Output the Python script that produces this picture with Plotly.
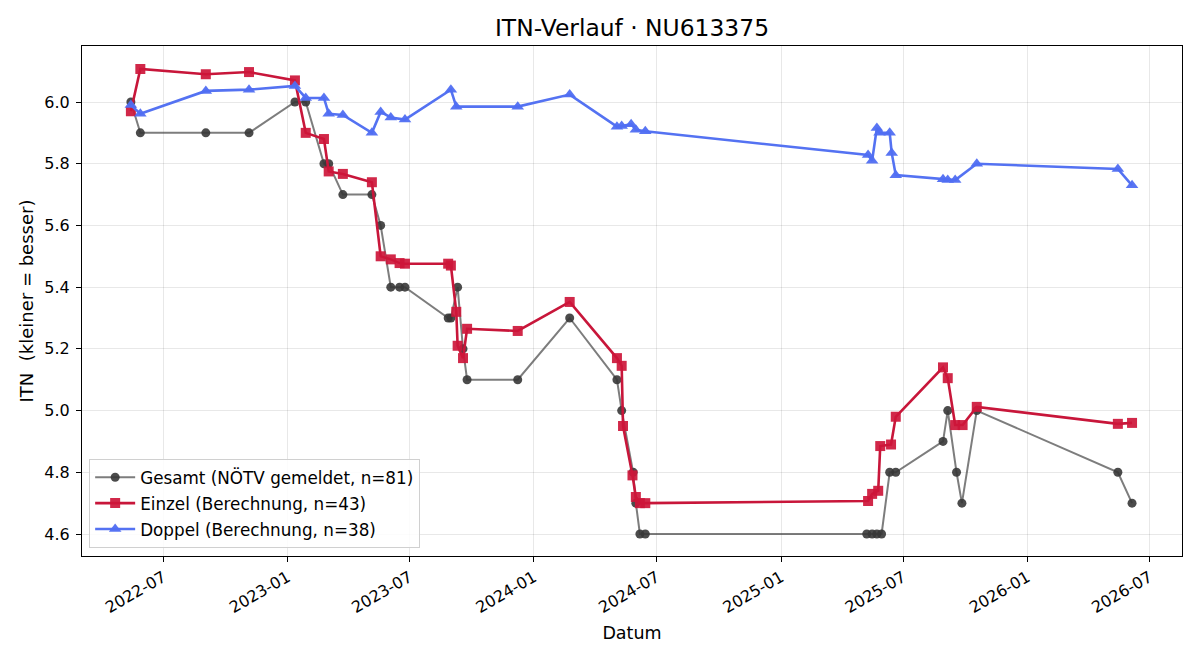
import plotly.graph_objects as go

# ---- data ----
gesamt_dates = [
    "2022-05-14", "2022-05-28", "2022-09-02", "2022-11-05", "2023-01-12", "2023-01-28",
    "2023-02-24", "2023-03-03", "2023-03-24", "2023-05-06", "2023-05-19", "2023-06-03",
    "2023-06-16", "2023-06-24", "2023-08-27", "2023-08-31", "2023-09-10", "2023-09-18",
    "2023-09-24", "2023-12-08", "2024-02-23", "2024-05-03", "2024-05-10", "2024-05-27",
    "2024-05-31", "2024-06-06", "2024-06-14", "2025-05-08", "2025-05-16", "2025-05-23",
    "2025-05-30", "2025-06-11", "2025-06-20", "2025-08-29", "2025-09-05", "2025-09-18",
    "2025-09-26", "2025-10-18", "2026-05-15", "2026-06-05",
]
gesamt_vals = [
    6.0, 5.9, 5.9, 5.9, 6.0, 6.0,
    5.8, 5.8, 5.7, 5.7, 5.6, 5.4,
    5.4, 5.4, 5.3, 5.3, 5.4, 5.2,
    5.1, 5.1, 5.3, 5.1, 5.0, 4.8,
    4.7, 4.6, 4.6, 4.6, 4.6, 4.6,
    4.6, 4.8, 4.8, 4.9, 5.0, 4.8,
    4.7, 5.0, 4.8, 4.7,
]

einzel_dates = [
    "2022-05-14", "2022-05-28", "2022-09-02", "2022-11-05", "2023-01-12", "2023-01-28",
    "2023-02-24", "2023-03-03", "2023-03-24", "2023-05-06", "2023-05-19", "2023-06-03",
    "2023-06-16", "2023-06-24", "2023-08-27", "2023-08-31", "2023-09-08", "2023-09-10",
    "2023-09-18", "2023-09-24", "2023-12-08", "2024-02-23", "2024-05-03", "2024-05-10",
    "2024-05-12", "2024-05-26", "2024-05-31", "2024-06-06", "2024-06-14", "2025-05-10",
    "2025-05-16", "2025-05-25", "2025-05-28", "2025-06-13", "2025-06-20", "2025-08-29",
    "2025-09-05", "2025-09-16", "2025-09-27", "2025-10-18", "2026-05-15", "2026-06-05",
]
einzel_vals = [
    5.97, 6.107, 6.09, 6.097, 6.07, 5.90,
    5.88, 5.775, 5.767, 5.74, 5.50, 5.49,
    5.478, 5.476, 5.476, 5.47, 5.32, 5.21,
    5.17, 5.265, 5.258, 5.352, 5.17, 5.145,
    4.95, 4.79, 4.72, 4.70, 4.70, 4.707,
    4.73, 4.74, 4.885, 4.89, 4.98, 5.14,
    5.105, 4.953, 4.953, 5.012, 4.957, 4.96,
]

doppel_dates = [
    "2022-05-14", "2022-05-28", "2022-09-02", "2022-11-05", "2023-01-12", "2023-01-28",
    "2023-02-24", "2023-03-03", "2023-03-24", "2023-05-06", "2023-05-19", "2023-06-03",
    "2023-06-24", "2023-08-31", "2023-09-08", "2023-12-08", "2024-02-23", "2024-05-03",
    "2024-05-10", "2024-05-24", "2024-05-31", "2024-06-14", "2025-05-10", "2025-05-16",
    "2025-05-23", "2025-05-27", "2025-06-11", "2025-06-14", "2025-06-20", "2025-08-29",
    "2025-09-05", "2025-09-16", "2025-10-18", "2026-05-15", "2026-06-05",
]
doppel_vals = [
    5.99, 5.962, 6.036, 6.04, 6.052, 6.013,
    6.013, 5.962, 5.958, 5.90, 5.968, 5.95,
    5.943, 6.04, 5.985, 5.985, 6.024, 5.92,
    5.922, 5.928, 5.91, 5.905, 5.828, 5.81,
    5.916, 5.90, 5.90, 5.835, 5.763, 5.75,
    5.747, 5.747, 5.80, 5.783, 5.73,
]

x_tickvals = ["2022-07-01", "2023-01-01", "2023-07-01", "2024-01-01", "2024-07-01",
              "2025-01-01", "2025-07-01", "2026-01-01", "2026-07-01"]
x_ticktext = ["2022-07", "2023-01", "2023-07", "2024-01", "2024-07",
              "2025-01", "2025-07", "2026-01", "2026-07"]
y_tickvals = [4.6, 4.8, 5.0, 5.2, 5.4, 5.6, 5.8, 6.0]

FONT = "DejaVu Sans"

fig = go.Figure()
fig.add_trace(go.Scatter(
    x=gesamt_dates, y=gesamt_vals, mode="lines+markers",
    name="Gesamt (NÖTV gemeldet, n=81)", legendgroup="g",
    line=dict(color="rgba(70,70,70,0.7)", width=2),
    marker=dict(symbol="circle", size=9, color="rgba(55,55,55,0.9)"),
))
fig.add_trace(go.Scatter(
    x=einzel_dates, y=einzel_vals, mode="lines+markers",
    name="Einzel (Berechnung, n=43)", legendgroup="e",
    line=dict(color="rgb(200,22,58)", width=2.6),
    marker=dict(symbol="square", size=10, color="rgba(205,22,58,0.92)"),
))
fig.add_trace(go.Scatter(
    x=doppel_dates, y=doppel_vals, mode="lines+markers",
    name="Doppel (Berechnung, n=38)", legendgroup="d",
    line=dict(color="rgb(84,114,242)", width=2.6),
    marker=dict(symbol="triangle-up", size=11, color="rgba(80,110,242,0.95)"),
))

fig.update_layout(
    width=1200, height=660,
    margin=dict(l=82, r=18, t=46, b=104),
    paper_bgcolor="white", plot_bgcolor="white",
    font=dict(family=FONT, size=16, color="black"),
    title=dict(text="ITN-Verlauf · NU613375", x=0.5, xref="paper", xanchor="center",
               y=0.958, yref="container", yanchor="middle",
               font=dict(family=FONT, size=23.4, color="black")),
    showlegend=True,
    legend=dict(
        x=0.0065, y=0.016, xanchor="left", yanchor="bottom",
        bgcolor="rgba(255,255,255,0.85)", bordercolor="#d0d0d0", borderwidth=1,
        font=dict(family=FONT, size=16.8, color="black"),
        itemwidth=40, tracegroupgap=1,
    ),
)
fig.update_xaxes(
    type="date", range=["2022-03-02 14:00", "2026-08-18"],
    tickvals=x_tickvals, ticktext=x_ticktext, tickangle=-30,
    showline=True, linecolor="black", linewidth=1, mirror=True,
    ticks="outside", ticklen=5, tickcolor="black",
    showgrid=True, gridcolor="rgba(0,0,0,0.09)", gridwidth=1,
    zeroline=False,
    title=dict(text="Datum", font=dict(family=FONT, size=17.5), standoff=10),
    tickfont=dict(family=FONT, size=16),
)
fig.update_yaxes(
    range=[4.5287, 6.1815],
    tickvals=y_tickvals, tickformat=".1f",
    showline=True, linecolor="black", linewidth=1, mirror=True,
    ticks="outside", ticklen=5, tickcolor="black", ticklabelstandoff=3,
    showgrid=True, gridcolor="rgba(0,0,0,0.09)", gridwidth=1,
    zeroline=False,
    title=dict(text="ITN\u00a0 (kleiner = besser)", font=dict(family=FONT, size=18), standoff=6),
    tickfont=dict(family=FONT, size=16),
)

fig.write_html("out.html")
